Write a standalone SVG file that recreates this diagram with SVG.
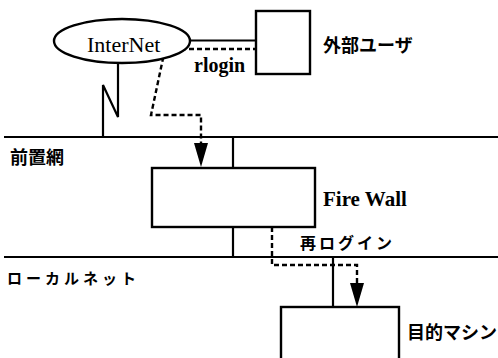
<svg xmlns="http://www.w3.org/2000/svg" width="498" height="358" viewBox="0 0 498 358">
<style>
.ln{stroke:#000;stroke-width:2.2;fill:none}
.box{stroke:#000;stroke-width:2.4;fill:#fff}
.dash{stroke:#000;stroke-width:2.4;fill:none;stroke-dasharray:5,3}
.en{font-family:"Liberation Serif",serif;fill:#000}
.jp{font-family:"Noto Sans CJK JP",sans-serif;font-weight:bold;fill:#000}
</style>
<rect width="498" height="358" fill="#fff"/>
<g id="connectors">
<line class="ln" x1="4" y1="137" x2="498" y2="137"/>
<line class="ln" x1="4" y1="257" x2="498" y2="257"/>
<polyline class="ln" points="103,137 103,85 118,117 118,63"/>
<line class="ln" x1="190" y1="40.5" x2="256" y2="40.5"/>
<line class="ln" x1="233" y1="137" x2="233" y2="168"/>
<line class="ln" x1="233" y1="227" x2="233" y2="257"/>
<line class="ln" x1="333" y1="257" x2="333" y2="307"/>
<line class="dash" x1="165" y1="49" x2="256" y2="49"/>
<polyline class="dash" points="165,49 151,115 201,115 201,143"/>
<path d="M194,143 L208,143 L201,167 Z" fill="#000"/>
<polyline class="dash" points="272,227 272,265 357,265 357,283"/>
<path d="M350,283 L364,283 L357,307 Z" fill="#000"/>
</g>
<g id="internet">
<ellipse class="box" cx="122" cy="41" rx="68" ry="22"/>
<text class="en" x="87" y="52" font-size="22">InterNet</text>
</g>
<text class="en" x="194" y="72" font-size="20" font-weight="bold">rlogin</text>
<g id="external-user">
<rect class="box" x="256" y="11" width="54" height="63"/>
<text class="jp" x="323" y="52" font-size="18">外部ユーザ</text>
</g>
<text class="jp" x="10" y="164" font-size="18">前置網</text>
<g id="firewall">
<rect class="box" x="152" y="168" width="163" height="59"/>
<text class="en" x="323" y="206" font-size="21" font-weight="bold">Fire Wall</text>
</g>
<text class="jp" x="300" y="249" font-size="16" letter-spacing="3">再ログイン</text>
<text class="jp" x="7" y="284" font-size="15" letter-spacing="4">ローカルネット</text>
<g id="target">
<rect class="box" x="281" y="307" width="118" height="60"/>
<text class="jp" x="407" y="339" font-size="18">目的マシン</text>
</g>
</svg>
